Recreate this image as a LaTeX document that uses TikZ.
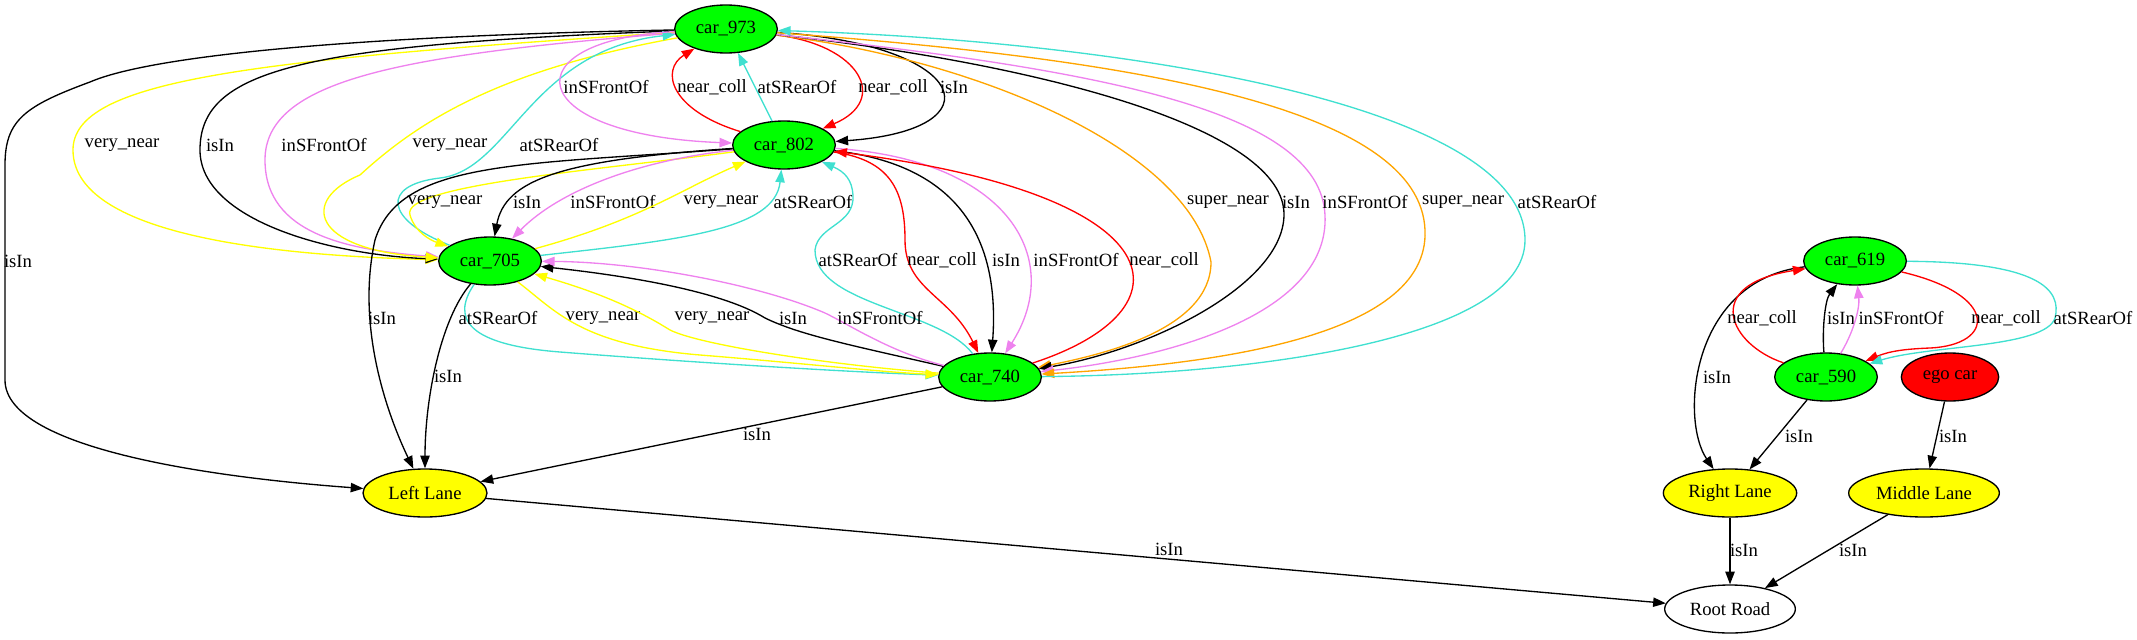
\documentclass[tikz,border=0pt]{standalone}
\usepackage{fontspec}
\setmainfont{Liberation Serif}
\usetikzlibrary{shapes.geometric,arrows.meta}

\definecolor{carGreen}{HTML}{00FF00}
\definecolor{laneYellow}{HTML}{FFFF00}
\definecolor{egoRed}{HTML}{FF0000}
\definecolor{vio}{HTML}{EE82EE}
\definecolor{tur}{HTML}{40E0D0}
\definecolor{ora}{HTML}{FFA500}

\tikzset{
  obj/.style={ellipse, draw, line width=1pt, inner sep=0pt, minimum height=36pt,
    font=\fontsize{14pt}{16pt}\selectfont},
  car/.style={obj, fill=carGreen, minimum width=77pt},
  lane/.style={obj, fill=laneYellow},
  lbl/.style={inner sep=0pt, text=black, font=\fontsize{14pt}{16pt}\selectfont},
  rel/.style={line width=1pt, -{Triangle[length=9.5pt,width=7pt]}},
  isin/.style={rel, black},
  vnear/.style={rel, laneYellow},
  snear/.style={rel, ora},
  front/.style={rel, vio},
  rear/.style={rel, tur},
  ncoll/.style={rel, egoRed},
}

\begin{document}
\begin{tikzpicture}[x=0.75pt, y=-0.75pt]
      \useasboundingbox (0, 0) rectangle (2137, 639);

      % ノード
      \node[car] (c973) at (726, 29) {car\_973};
      \node[car] (c802) at (784, 145) {car\_802};
      \node[car] (c705) at (490, 261) {car\_705};
      \node[car] (c740) at (990, 377) {car\_740};
      \node[lane, minimum width=93pt] (leftlane) at (425, 493) {Left Lane};
      \node[obj, minimum width=98pt] (rootroad) at (1730, 609) {Root Road};

      \node[car] (c619) at (1855, 261) {car\_619};
      \node[car] (c590) at (1826, 377) {car\_590};
      \node[obj, fill=egoRed, minimum width=73pt] (ego) at (1950, 377) {ego car};
      \node[lane, minimum width=100pt] (rightlane) at (1730, 493) {Right Lane};
      \node[lane, minimum width=113pt] (midlane) at (1924, 493) {Middle Lane};

      % car_973 から
      \draw[isin] (c973) .. controls (350, 36) and (150, 56) .. (90, 82)
        .. controls (25, 106) and (5, 120) .. (5, 165) -- (5, 380)
        .. controls (5, 450) and (220, 478) .. (leftlane) node[lbl] at (18, 261) {isIn};
      \draw[vnear] (c973) .. controls (250, 60) and (73, 80) .. (73, 150)
        .. controls (73, 230) and (250, 255) .. (c705) node[lbl] at (122, 145) {very\_near};
      \draw[isin] (c973) .. controls (300, 45) and (200, 70) .. (200, 150)
        .. controls (200, 220) and (330, 255) .. (c705) node[lbl] at (220, 145) {isIn};
      \draw[front] (c973) .. controls (400, 55) and (265, 80) .. (265, 160)
        .. controls (265, 235) and (350, 250) .. (c705) node[lbl] at (324, 145) {inSFrontOf};
      \draw[vnear] (c973) .. controls (500, 70) and (420, 120) .. (360, 175)
        .. controls (300, 200) and (310, 250) .. (c705) node[lbl] at (450, 145) {very\_near};
      \draw[rear] (c705) .. controls (385, 220) and (380, 185) .. (440, 178)
        .. controls (510, 170) and (530, 50) .. (c973) node[lbl] at (559, 145) {atSRearOf};
      \draw[front] (c973) .. controls (510, 40) and (520, 135) .. (c802) node[lbl] at (606, 87) {inSFrontOf};
      \draw[ncoll] (c802) .. controls (670, 110) and (660, 70) .. (c973) node[lbl] at (712, 87) {near\_coll};
      \draw[rear] (c802) -- (c973) node[lbl] at (797, 87) {atSRearOf};
      \draw[ncoll] (c973) .. controls (860, 45) and (890, 100) .. (c802) node[lbl] at (893, 87) {near\_coll};
      \draw[isin] (c973) .. controls (970, 45) and (1000, 130) .. (c802) node[lbl] at (954, 87) {isIn};
      \draw[snear] (c973) .. controls (980, 60) and (1190, 150) .. (1211, 262)
        .. controls (1211, 330) and (1100, 355) .. (c740) node[lbl] at (1228, 202) {super\_near};
      \draw[isin] (c973) .. controls (1050, 65) and (1285, 130) .. (1284, 215)
        .. controls (1283, 285) and (1150, 350) .. (c740) node[lbl] at (1296, 202) {isIn};
      \draw[front] (c973) .. controls (1100, 70) and (1320, 110) .. (1325, 215)
        .. controls (1330, 320) and (1150, 360) .. (c740) node[lbl] at (1365, 202) {inSFrontOf};
      \draw[snear] (c973) .. controls (1150, 60) and (1420, 110) .. (1425, 230)
        .. controls (1430, 340) and (1200, 365) .. (c740) node[lbl] at (1463, 202) {super\_near};
      \draw[rear] (c740) .. controls (1250, 375) and (1525, 340) .. (1525, 240)
        .. controls (1525, 100) and (1100, 40) .. (c973) node[lbl] at (1557, 202) {atSRearOf};

      % car_802 から
      \draw[isin] (c802) .. controls (520, 165) and (400, 160) .. (375, 240)
        .. controls (355, 330) and (390, 420) .. (leftlane) node[lbl] at (382, 318) {isIn};
      \draw[vnear] (c802) .. controls (600, 170) and (400, 185) .. (410, 215)
        .. controls (415, 232) and (430, 240) .. (c705) node[lbl] at (445, 202) {very\_near};
      \draw[isin] (c802) .. controls (560, 160) and (505, 180) .. (c705) node[lbl] at (527, 202) {isIn};
      \draw[front] (c802) .. controls (640, 160) and (560, 190) .. (c705) node[lbl] at (613, 202) {inSFrontOf};
      \draw[vnear] (c705) .. controls (640, 220) and (680, 190) .. (c802) node[lbl] at (721, 202) {very\_near};
      \draw[rear] (c705) .. controls (680, 240) and (775, 230) .. (c802) node[lbl] at (813, 202) {atSRearOf};
      \draw[rear] (c740) .. controls (940, 310) and (815, 305) .. (815, 250)
        .. controls (818, 225) and (855, 225) .. (853, 195)
        .. controls (852, 180) and (845, 172) .. (c802) node[lbl] at (858, 260) {atSRearOf};
      \draw[ncoll] (c802) .. controls (890, 160) and (905, 190) .. (905, 240)
        .. controls (905, 290) and (950, 295) .. (c740) node[lbl] at (942, 260) {near\_coll};
      \draw[isin] (c802) .. controls (960, 165) and (1000, 240) .. (c740) node[lbl] at (1006, 260) {isIn};
      \draw[front] (c802) .. controls (1010, 160) and (1065, 260) .. (c740) node[lbl] at (1076, 260) {inSFrontOf};
      \draw[ncoll] (c740) .. controls (1195, 310) and (1180, 195) .. (c802) node[lbl] at (1164, 260) {near\_coll};

      % car_705 と car_740
      \draw[isin] (c705) .. controls (440, 320) and (425, 400) .. (leftlane) node[lbl] at (448, 376) {isIn};
      \draw[rear] (c705) .. controls (450, 320) and (470, 345) .. (560, 352)
        .. controls (700, 363) and (850, 372) .. (c740) node[lbl] at (498, 318) {atSRearOf};
      \draw[vnear] (c705) .. controls (555, 310) and (580, 345) .. (700, 355)
        .. controls (800, 363) and (880, 372) .. (c740) node[lbl] at (603, 318) {very\_near};
      \draw[vnear] (c740) .. controls (830, 365) and (700, 345) .. (670, 330)
        .. controls (630, 305) and (590, 290) .. (c705) node[lbl] at (712, 318) {very\_near};
      \draw[isin] (c740) .. controls (850, 345) and (800, 335) .. (765, 318)
        .. controls (720, 290) and (620, 275) .. (c705) node[lbl] at (793, 318) {isIn};
      \draw[front] (c740) .. controls (890, 352) and (850, 325) .. (825, 313)
        .. controls (760, 285) and (640, 262) .. (c705) node[lbl] at (880, 318) {inSFrontOf};

      % 右のグループ
      \draw[isin] (c619) .. controls (1690, 280) and (1680, 420) .. (rightlane) node[lbl] at (1717, 377) {isIn};
      \draw[ncoll] (c590) .. controls (1730, 345) and (1700, 285) .. (c619) node[lbl] at (1762, 318) {near\_coll};
      \draw[isin] (c590) .. controls (1822, 330) and (1825, 300) .. (c619) node[lbl] at (1841, 318) {isIn};
      \draw[front] (c590) .. controls (1852, 335) and (1860, 310) .. (c619) node[lbl] at (1901, 318) {inSFrontOf};
      \draw[ncoll] (c619) .. controls (2000, 295) and (1995, 345) .. (1930, 348)
        .. controls (1905, 349) and (1890, 351) .. (c590) node[lbl] at (2006, 318) {near\_coll};
      \draw[rear] (c619) .. controls (2040, 262) and (2062, 290) .. (2055, 318)
        .. controls (2045, 348) and (1930, 345) .. (c590) node[lbl] at (2093, 318) {atSRearOf};

      % まっすぐな isIn
      \foreach \a/\b/\x/\y in {c740/leftlane/757/434, leftlane/rootroad/1169/549,
          c590/rightlane/1799/436, ego/midlane/1953/436,
          rightlane/rootroad/1744/550, midlane/rootroad/1853/550} {
        \draw[isin] (\a) -- (\b) node[lbl] at (\x, \y) {isIn};
      }
  \end{tikzpicture}
\end{document}
